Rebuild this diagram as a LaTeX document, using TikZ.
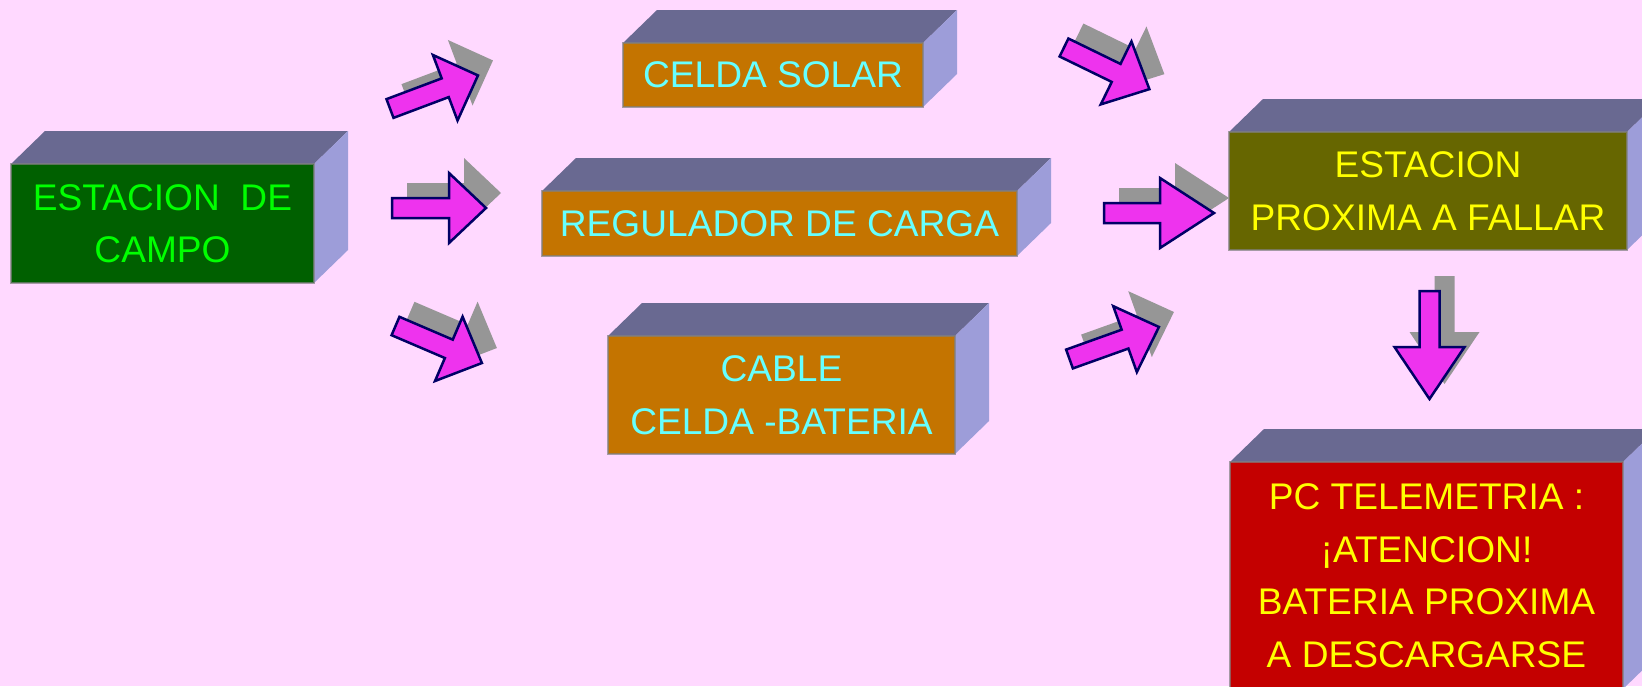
\documentclass[tikz,border=0pt]{standalone}
\usepackage{fontspec}
\setmainfont{Liberation Sans}
\usetikzlibrary{calc,backgrounds}
\definecolor{bgpink}{RGB}{255,217,255}
\definecolor{topc}{RGB}{105,105,145}
\definecolor{sidec}{RGB}{157,157,217}
\definecolor{greenf}{RGB}{0,96,0}
\definecolor{orangef}{RGB}{196,116,0}
\definecolor{olivef}{RGB}{102,102,0}
\definecolor{redf}{RGB}{196,0,0}
\definecolor{limetext}{RGB}{0,255,0}
\definecolor{cyantext}{RGB}{102,255,255}
\definecolor{yellowtext}{RGB}{255,255,0}
\definecolor{arrowc}{RGB}{238,51,238}
\definecolor{arrowline}{RGB}{0,0,102}
\definecolor{shadowc}{RGB}{150,150,150}
\definecolor{framec}{RGB}{128,128,128}
\tikzset{
  frontbox/.style={draw=framec, draw opacity=0.7, line width=1.5pt, outer sep=0pt, inner sep=0pt,
    align=center, font=\fontsize{37.1}{52.5}\selectfont},
  topface/.style={fill=topc},
  sideface/.style={fill=sidec},
  arrowbody/.style={fill=arrowc, draw=arrowline, line width=2.5pt, line join=miter},
  arrowshadow/.style={fill=shadowc},
}
\newcommand{\cubefaces}[1]{%
  \fill[topface] (#1.north west) -- ++(34,-33) -- ($(#1.north east)+(34,-33)$) -- (#1.north east) -- cycle;
  \fill[sideface] (#1.north east) -- ++(34,-33) -- ($(#1.south east)+(34,-33)$) -- (#1.south east) -- cycle;}
\newcommand{\blockarrow}[5]{%
  \begin{scope}[shift={(#1+15,#2-15)}, rotate=#3]
    \fill[arrowshadow] (0,-10) -- (#4-#5,-10) -- (#4-#5,-35) -- (#4,0) -- (#4-#5,35) -- (#4-#5,10) -- (0,10) -- cycle;
  \end{scope}
  \begin{scope}[shift={(#1,#2)}, rotate=#3]
    \filldraw[arrowbody] (0,-10) -- (#4-#5,-10) -- (#4-#5,-35) -- (#4,0) -- (#4-#5,35) -- (#4-#5,10) -- (0,10) -- cycle;
  \end{scope}}
\begin{document}
\begin{tikzpicture}[x=1pt,y=-1pt]
\useasboundingbox (0,0) rectangle (1642,686);
\clip (0,0) rectangle (1642,686);

\node[frontbox, fill=greenf, text=limetext, minimum width=303pt, minimum height=119pt] (campo) at (162.5,223.5) {ESTACION\ \ DE\\CAMPO};
\node[frontbox, fill=orangef, text=cyantext, minimum width=300pt, minimum height=64pt] (solar) at (773,75) {CELDA SOLAR};
\node[frontbox, fill=orangef, text=cyantext, minimum width=475pt, minimum height=65pt] (regulador) at (779.5,223.5) {REGULADOR DE CARGA};
\node[frontbox, fill=orangef, text=cyantext, minimum width=347pt, minimum height=118pt] (cable) at (781.5,395) {CABLE\\CELDA -BATERIA};
\node[frontbox, fill=olivef, text=yellowtext, minimum width=398pt, minimum height=118pt] (fallar) at (1428,191) {ESTACION\\PROXIMA A FALLAR};
\node[frontbox, fill=redf, text=yellowtext, minimum width=393pt, minimum height=227pt] (pc) at (1426.5,575.5) {PC TELEMETRIA :\\¡ATENCION!\\BATERIA PROXIMA\\A DESCARGARSE};

\begin{scope}[on background layer]
  \fill[bgpink] (0,0) rectangle (1642,686);
  \cubefaces{campo}
  \cubefaces{solar}
  \cubefaces{regulador}
  \cubefaces{cable}
  \cubefaces{fallar}
  \cubefaces{pc}
\end{scope}

\blockarrow{390}{108.5}{20.6}{94}{35}
\blockarrow{392}{208}{0}{94}{37}
\blockarrow{395.5}{326}{-23.2}{94}{36}
\blockarrow{1064}{47.5}{-26}{95}{37}
\blockarrow{1104}{213}{0}{110}{54}
\blockarrow{1069.5}{359}{19.7}{95}{36}
\blockarrow{1429.5}{291}{-90}{108}{52}
\end{tikzpicture}
\end{document}
